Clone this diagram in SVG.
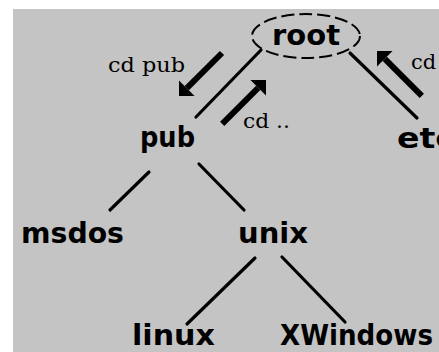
<svg xmlns="http://www.w3.org/2000/svg" width="439" height="352" viewBox="0 0 439 352">
<style>
.node{font-family:"DejaVu Sans","Liberation Sans",sans-serif;font-weight:bold;font-size:29px;fill:#000}
.lbl{font-family:"DejaVu Serif","Liberation Serif",serif;font-size:21px;fill:#000}
.edge{stroke:#000;stroke-width:3.2;stroke-linecap:round;fill:none}
.arrow{stroke:#000;stroke-width:6;fill:none;marker-end:url(#head)}
</style>
<defs>
<marker id="head" markerUnits="userSpaceOnUse" markerWidth="24" markerHeight="24" refX="0" refY="0" orient="auto" overflow="visible">
<path d="M0,-11 L11,0 L0,11 z" fill="#000"/>
</marker>
</defs>
<rect width="439" height="352" fill="#fff"/>
<rect x="13" y="9" width="426" height="343" fill="#c4c4c4"/>
<g id="connectors">
<line class="edge" x1="261" y1="50" x2="196" y2="117"/>
<line class="edge" x1="350" y1="53" x2="417" y2="118"/>
<line class="edge" x1="149" y1="172" x2="110" y2="210"/>
<line class="edge" x1="199" y1="164" x2="244" y2="210"/>
<line class="edge" x1="255" y1="258" x2="187" y2="324"/>
<line class="edge" x1="282" y1="257" x2="345" y2="322"/>
<line class="arrow" x1="222" y1="53" x2="186.8" y2="88.2"/>
<line class="arrow" x1="222.2" y1="123.8" x2="258.2" y2="87.8"/>
<line class="arrow" x1="421.8" y1="95.8" x2="384.8" y2="58.8"/>
<text class="lbl" x="108" y="72" textLength="77" lengthAdjust="spacingAndGlyphs">cd pub</text>
<text class="lbl" x="243" y="128" textLength="47" lengthAdjust="spacingAndGlyphs">cd ..</text>
<text class="lbl" x="411" y="69">cd</text>
</g>
<g id="root">
<ellipse cx="306" cy="36" rx="54" ry="22" fill="none" stroke="#000" stroke-width="2" stroke-dasharray="13 5"/>
<text class="node" x="272" y="45" textLength="68" lengthAdjust="spacingAndGlyphs">root</text>
</g>
<g id="pub"><text class="node" x="140" y="147" textLength="55" lengthAdjust="spacingAndGlyphs">pub</text></g>
<g id="etc"><text class="node" x="397" y="148" textLength="58" lengthAdjust="spacingAndGlyphs">etc</text></g>
<g id="msdos"><text class="node" x="21" y="243" textLength="103" lengthAdjust="spacingAndGlyphs">msdos</text></g>
<g id="unix"><text class="node" x="238" y="243" textLength="70" lengthAdjust="spacingAndGlyphs">unix</text></g>
<g id="linux"><text class="node" x="132" y="345" textLength="83" lengthAdjust="spacingAndGlyphs">linux</text></g>
<g id="xwindows"><text class="node" x="280" y="345" textLength="153" lengthAdjust="spacingAndGlyphs">XWindows</text></g>
</svg>
